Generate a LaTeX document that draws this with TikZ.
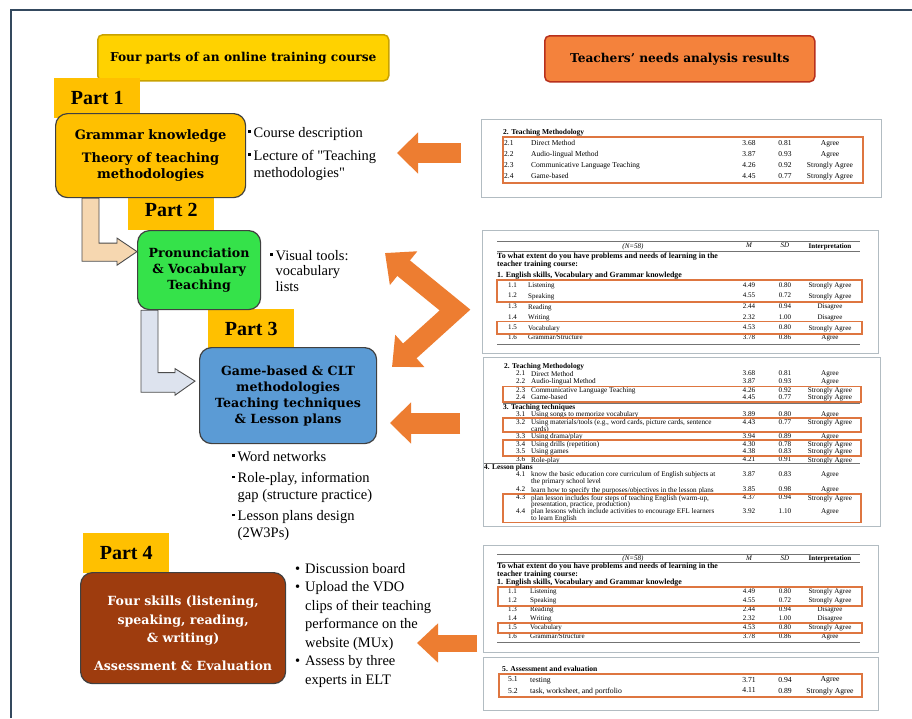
\documentclass[tikz,border=0pt]{standalone}
\usepackage{fontspec}
\setmainfont{Liberation Serif}[Ligatures=TeXOff]
\newfontfamily\boxfont{DejaVu Serif}
\usetikzlibrary{arrows.meta}

\definecolor{partyellow}{HTML}{FFC000}
\definecolor{titlegold}{HTML}{FFD200}
\definecolor{goldedge}{HTML}{C9A200}
\definecolor{titleorange}{HTML}{F4823C}
\definecolor{orangeedge}{HTML}{B8301C}
\definecolor{arroworange}{HTML}{ED7D31}
\definecolor{boxgreen}{HTML}{35E24A}
\definecolor{boxblue}{HTML}{5B9BD5}
\definecolor{boxbrown}{HTML}{9E3C0E}
\definecolor{tanfill}{HTML}{F6D7B0}
\definecolor{greyfill}{HTML}{DDE3EE}
\definecolor{framecol}{HTML}{34495E}
\definecolor{tableedge}{HTML}{B2BCC2}
\definecolor{hlorange}{HTML}{DE7640}

\tikzset{
  titlebox/.style={draw, line width=1.5pt, rounded corners=5pt, anchor=north west,
    font=\boxfont\bfseries\fontsize{12.2}{14}\selectfont},
  partlabel/.style={fill=partyellow, minimum width=86pt, minimum height=40pt, inner sep=0pt,
    anchor=north west, font=\bfseries\fontsize{20}{22}\selectfont},
  partbox/.style={draw=black!75, line width=1.2pt, rounded corners=12pt, align=center,
    anchor=north west, inner sep=0pt, font=\boxfont\bfseries\fontsize{12.6}{16}\selectfont},
  note/.style={align=left, anchor=north west, inner sep=0pt},
  tablebox/.style={draw=tableedge, line width=1.2pt, anchor=north west, inner sep=0pt},
  hlbox/.style={draw=hlorange, line width=1.1pt},
  tabrule/.style={draw=black!55, line width=0.5pt},
  bigarrow/.style={arroworange, line width=20pt, -{Triangle[length=21pt, width=40pt]}},
  lconn/.style={draw=black!70, line width=0.9pt, line join=miter},
  cell/.style={inner sep=0pt, anchor=north west, align=left, font=\fontsize{7}{7}\selectfont}
}

\newcommand{\sqbullet}{\makebox[5.5pt][l]{\raisebox{4.5pt}{\rule{2.3pt}{2.3pt}}}}
\newcommand{\rndbullet}{\makebox[10pt][l]{\textbullet}}

% one row of a result table: y / no. / item / M / SD / interpretation
\newcommand{\tabrows}[4]{%
  \foreach \rowy/\rownum/\rowitem/\rowm/\rowsd/\rowint [count=\rowk] in {#4} {
    \node [cell] (#1n\rowk) at (#2, \rowy) {\rownum};
    \node [cell] (#1i\rowk) at (#3, \rowy) {\rowitem};
    \node [cell, anchor=north] (#1m\rowk) at (749, \rowy) {\rowm};
    \node [cell, anchor=north] (#1s\rowk) at (785, \rowy) {\rowsd};
    \node [cell, anchor=north] (#1r\rowk) at (830, \rowy) {\rowint};
  }}

\begin{document}
\begin{tikzpicture}[x=1pt, y=-1pt]
  \useasboundingbox (0, 0) rectangle (912, 718);
  \fill[white] (0, 0) rectangle (912, 718);
  \draw[framecol, line width=1.5pt] (11, 718) -- (11, 10) -- (912, 10);

  % headings
  \node[titlebox, fill=titlegold, draw=goldedge, minimum width=291pt, minimum height=46pt] (head1) at (97, 34) {Four parts of an online training course};
  \node[titlebox, fill=titleorange, draw=orangeedge, minimum width=270pt, minimum height=46pt] (head2) at (544, 35) {Teachers’ needs analysis results};

  % part labels (behind the boxes)
  \node[partlabel] (p1) at (54, 78) {Part 1};
  \node[partlabel] (p2) at (128, 190) {Part 2};
  \node[partlabel] (p3) at (208, 309) {Part 3};
  \node[partlabel] (p4) at (83, 533) {Part 4};

  % the four parts
  \node[partbox, fill=partyellow, minimum width=190pt, minimum height=84pt, font=\boxfont\bfseries\fontsize{13}{16}\selectfont] (g1) at (55, 113)
    {Grammar knowledge\\[7pt]Theory of teaching\\methodologies};
  \node[partbox, fill=boxgreen, minimum width=123pt, minimum height=79pt] (g2) at (137, 230)
    {Pronunciation\\\& Vocabulary\\Teaching};
  \node[partbox, fill=boxblue, minimum width=177pt, minimum height=96pt] (g3) at (199, 347)
    {Game-based \& CLT\\methodologies\\Teaching techniques\\\& Lesson plans};
  \node[partbox, fill=boxbrown, text=white, minimum width=205pt, minimum height=111pt, font=\boxfont\bfseries\fontsize{12.6}{18.5}\selectfont] (g4) at (80, 572)
    {\rule{0pt}{20pt}Four skills (listening,\\speaking, reading,\\\& writing)\\[9pt]Assessment \& Evaluation};

  % bent connectors between parts
  \draw [lconn, fill=tanfill] ([xshift=27]g1.south west) -- ++(0, 63) -- ++(35, 0) -- ++(0, 4)
    -- ([yshift=18.5]g2.west) -- ++(-20, -13.5) -- ++(0, 5) -- ++(-18, 0) |- ([xshift=44]g1.south west) -- cycle;
  \draw [lconn, fill=greyfill] ([xshift=4]g2.south west) -- ++(0, 82) -- ++(34, 0) -- ++(0, 3)
    -- ([xshift=-4, yshift=14.5]g3.west) -- ++(-20, -12.5) -- ++(0, 4) -- ++(-17, 0) |- ([xshift=21]g2.south west) -- cycle;

  % notes
  \node[note, font=\fontsize{14.5}{17}\selectfont] (n1) at (248, 127)
    {\sqbullet Course description\\[6pt]\sqbullet Lecture of "Teaching\\\hspace*{5.5pt}methodologies"};
  \node[note, font=\fontsize{14.5}{15.5}\selectfont] (n2) at (270, 250)
    {\sqbullet Visual tools:\\\hspace*{5.5pt}vocabulary\\\hspace*{5.5pt}lists};
  \node[note, font=\fontsize{14.5}{16.5}\selectfont] (n3) at (232, 451)
    {\sqbullet Word networks\\[5pt]\sqbullet Role-play, information\\\hspace*{5.5pt}gap (structure practice)\\[5pt]\sqbullet Lesson plans design\\\hspace*{5.5pt}(2W3Ps)};
  \node[note, font=\fontsize{14.5}{18.5}\selectfont] (n4) at (295, 563)
    {\rndbullet Discussion board\\\rndbullet Upload the VDO\\\hspace*{10pt}clips of their teaching\\\hspace*{10pt}performance on the\\\hspace*{10pt}website (MUx)\\\rndbullet Assess by three\\\hspace*{10pt}experts in ELT};

  % result tables
  \node[tablebox, minimum width=400pt, minimum height=78pt] (tab1) at (481, 119) {};
  \node[tablebox, minimum width=396pt, minimum height=123pt] (tab2) at (482, 230) {};
  \node[tablebox, minimum width=397pt, minimum height=169pt] (tab3) at (483, 357) {};
  \node[tablebox, minimum width=395pt, minimum height=107pt] (tab4) at (483, 545) {};
  \node[tablebox, minimum width=395pt, minimum height=53pt] (tab5) at (483, 657) {};

  % table 1
  \begin{scope}[cell/.append style={font=\fontsize{7.5}{8}\selectfont}]
    \node[cell, font=\bfseries\fontsize{7.5}{8}\selectfont] (t1h) at (503, 129) {2. Teaching Methodology};
    \tabrows{tA}{504}{531}{
      140/2.1/Direct Method/3.68/0.81/Agree,
      151/2.2/Audio-lingual Method/3.87/0.93/Agree,
      162/2.3/Communicative Language Teaching/4.26/0.92/Strongly Agree,
      173/2.4/Game-based/4.45/0.77/Strongly Agree}
  \end{scope}
  \draw[hlbox] (503, 137) rectangle (863, 183);

  % table 2
  \draw[tabrule] (497, 241) -- (860, 241);
  \draw[tabrule] (497, 251) -- (860, 251);
  \node[cell, anchor=north, font=\itshape\fontsize{7}{7}\selectfont] (t2a) at (633, 243) {(N=58)};
  \node[cell, anchor=north, font=\itshape\fontsize{7}{7}\selectfont] (t2b) at (749, 243) {M};
  \node[cell, anchor=north, font=\itshape\fontsize{7}{7}\selectfont] (t2c) at (785, 243) {SD};
  \node[cell, anchor=north, font=\bfseries\fontsize{7}{7}\selectfont] (t2d) at (830, 243) {Interpretation};
  \node[cell, font=\bfseries\fontsize{7.9}{7.2}\selectfont] (t2e) at (497, 253)
    {To what extent do you have problems and needs of learning in the\\teacher training course:};
  \node[cell, font=\bfseries\fontsize{7.9}{7}\selectfont] (t2f) at (497, 272.3) {1. English skills, Vocabulary and Grammar knowledge};
  \tabrows{tB}{508}{528}{
    282.4/1.1/Listening/4.49/0.80/Strongly Agree,
    293/1.2/Speaking/4.55/0.72/Strongly Agree,
    304/1.3/Reading/2.44/0.94/Disagree,
    314.4/1.4/Writing/2.32/1.00/Disagree,
    325/1.5/Vocabulary/4.53/0.80/Strongly Agree,
    335/1.6/{Grammar/Structure}/3.78/0.86/Agree}
  \draw[tabrule] (497, 344) -- (860, 344);
  \draw[hlbox] (497, 280) rectangle (862, 302);
  \draw[hlbox] (497, 321.5) rectangle (862, 334);

  % table 3
  \begin{scope}[cell/.append style={font=\fontsize{7.2}{6.6}\selectfont}]
    \node[cell, font=\bfseries\fontsize{7.4}{7}\selectfont] (t3a) at (504, 363.3) {2. Teaching Methodology};
    \tabrows{tC}{516}{531}{
      370.8/2.1/Direct Method/3.68/0.81/Agree,
      378.6/2.2/Audio-lingual Method/3.87/0.93/Agree,
      387.4/2.3/Communicative Language Teaching/4.26/0.92/Strongly Agree,
      394.6/2.4/Game-based/4.45/0.77/Strongly Agree}
    \node[cell, font=\bfseries\fontsize{7.4}{7}\selectfont] (t3b) at (503, 404) {3. Teaching techniques};
    \tabrows{tD}{516}{531}{
      411.3/3.1/Using songs to memorize vocabulary/3.89/0.80/Agree,
      419.3/3.2/{Using materials/tools (e.g., word cards, picture cards, sentence\\cards)}/4.43/0.77/Strongly Agree,
      433.2/3.3/{Using drama/play}/3.94/0.89/Agree,
      441.3/3.4/Using drills (repetition)/4.30/0.78/Strongly Agree,
      448.6/3.5/Using games/4.38/0.83/Strongly Agree,
      456.8/3.6/Role-play/4.21/0.91/Strongly Agree}
    \node[cell, font=\bfseries\fontsize{7.4}{7}\selectfont] (t3c) at (484, 464.5) {4. Lesson plans};
    \tabrows{tE}{516}{531}{
      471.4/4.1/{know the basic education core curriculum of English subjects at\\the primary school level}/3.87/0.83/Agree,
      486.8/4.2/{learn how to specify the purposes/objectives in the lesson plans}/3.85/0.98/Agree,
      495/4.3/{plan lesson includes four steps of teaching English (warm-up,\\presentation, practice, production)}/4.37/0.94/Strongly Agree,
      508.6/4.4/{plan lessons which include activities to encourage EFL learners\\to learn English}/3.92/1.10/Agree}
  \end{scope}
  \draw[tabrule] (503, 403) -- (860, 403);
  \draw[tabrule] (484, 463) -- (860, 463);
  \draw[hlbox] (503, 386.5) rectangle (861, 402);
  \draw[hlbox] (503, 418) rectangle (861, 432);
  \draw[hlbox] (503, 440) rectangle (861, 456);
  \draw[hlbox] (503, 494) rectangle (861, 522.5);

  % table 4
  \draw[tabrule] (497, 554) -- (860, 554);
  \draw[tabrule] (497, 562) -- (860, 562);
  \node[cell, anchor=north, font=\itshape\fontsize{7}{7}\selectfont] (t4a) at (633, 555.5) {(N=58)};
  \node[cell, anchor=north, font=\itshape\fontsize{7}{7}\selectfont] (t4b) at (749, 555.5) {M};
  \node[cell, anchor=north, font=\itshape\fontsize{7}{7}\selectfont] (t4c) at (785, 555.5) {SD};
  \node[cell, anchor=north, font=\bfseries\fontsize{7}{7}\selectfont] (t4d) at (830, 555.5) {Interpretation};
  \node[cell, font=\bfseries\fontsize{7.9}{6.2}\selectfont] (t4e) at (497, 562.5)
    {To what extent do you have problems and needs of learning in the\\teacher training course:};
  \node[cell, font=\bfseries\fontsize{7.9}{7}\selectfont] (t4f) at (497, 579) {1. English skills, Vocabulary and Grammar knowledge};
  \tabrows{tF}{508}{530}{
    588.6/1.1/Listening/4.49/0.80/Strongly Agree,
    597.6/1.2/Speaking/4.55/0.72/Strongly Agree,
    606.2/1.3/Reading/2.44/0.94/Disagree,
    615.2/1.4/Writing/2.32/1.00/Disagree,
    624.8/1.5/Vocabulary/4.53/0.80/Strongly Agree,
    633.6/1.6/{Grammar/Structure}/3.78/0.86/Agree}
  \draw[tabrule] (497, 642) -- (860, 642);
  \draw[hlbox] (498, 587) rectangle (862, 606);
  \draw[hlbox] (498, 623) rectangle (862, 633);

  % table 5
  \begin{scope}[cell/.append style={font=\fontsize{7.7}{8}\selectfont}]
    \node[cell, font=\bfseries\fontsize{7.6}{8}\selectfont] (t5a) at (502, 666) {5. Assessment and evaluation};
    \tabrows{tG}{508}{530}{
      676.7/5.1/testing/3.71/0.94/Agree,
      687.7/5.2/{task, worksheet, and portfolio}/4.11/0.89/Strongly Agree}
  \end{scope}
  \draw[hlbox] (499, 674) rectangle (862, 697);

  % orange arrows from the results
  \coordinate (tip1) at (397, 153);
  \coordinate (vtop) at (385, 253);
  \coordinate (vmid) at (455, 310);
  \coordinate (vlow) at (392, 367);
  \coordinate (tip3) at (390, 423);
  \coordinate (tip4) at (417, 643);
  \draw [bigarrow] ([xshift=-20]tab1.west |- tip1) -- (tip1);
  \draw [bigarrow, {Triangle[length=24pt, width=42pt]}-{Triangle[length=24pt, width=42pt]}, line join=miter] (vtop) -- (vmid) -- (vlow);
  \draw [bigarrow, line width=21pt] ([xshift=-23]tab3.west |- tip3) -- (tip3);
  \draw [bigarrow, line width=17pt, -{Triangle[length=21pt, width=38pt]}] ([xshift=-6]tab4.west |- tip4) -- (tip4);
\end{tikzpicture}
\end{document}
